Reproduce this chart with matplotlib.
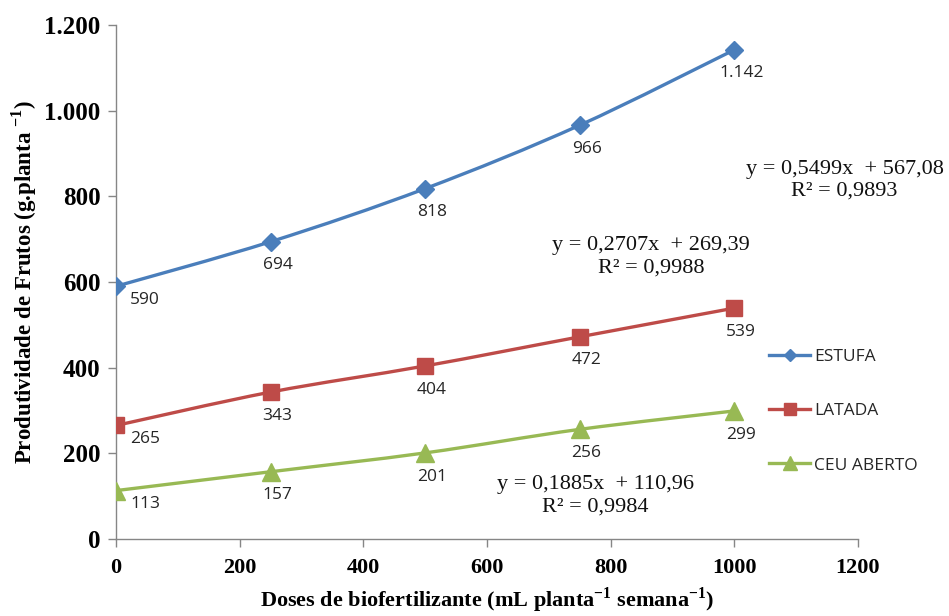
import numpy as np
import matplotlib.pyplot as plt
from matplotlib.path import Path
from matplotlib.patches import PathPatch
from matplotlib.lines import Line2D

# doses de biofertilizante (mL planta-1 semana-1)
doses = [0, 250, 500, 750, 1000]

estufa = [590, 694, 818, 966, 1142]
latada = [265, 343, 404, 472, 539]
ceu_aberto = [113, 157, 201, 256, 299]

series_names = ["ESTUFA", "LATADA", "CEU ABERTO"]
equacoes = ["y = 0,5499x  + 567,08\nR² = 0,9893",
            "y = 0,2707x  + 269,39\nR² = 0,9988",
            "y = 0,1885x  + 110,96\nR² = 0,9984"]

x_ticks = [0, 200, 400, 600, 800, 1000, 1200]
y_ticks = [0, 200, 400, 600, 800, 1000, 1200]
y_ticklabels = ["0", "200", "400", "600", "800", "1.000", "1.200"]

cores = ["#4A7EBB", "#BE4B48", "#98B954"]
marcadores = ["D", "s", "^"]
tam_marc = [9, 11, 13.5]
tam_leg = [6.5, 8.5, 10]
serif = "Liberation Serif"
sans = "Open Sans"

plt.rcParams["mathtext.fontset"] = "custom"
plt.rcParams["mathtext.rm"] = serif
plt.rcParams["mathtext.bf"] = serif + ":bold"


def curva_suave(x, y):
    # spline tipo catmull-rom convertida em bezier cubica (linha suavizada)
    p = np.column_stack([x, y]).astype(float)
    verts = [p[0]]
    codes = [Path.MOVETO]
    n = len(p)
    for i in range(n - 1):
        p0 = p[max(i - 1, 0)]
        p1 = p[i]
        p2 = p[i + 1]
        p3 = p[min(i + 2, n - 1)]
        c1 = p1 + (p2 - p0) / 6.0
        c2 = p2 - (p3 - p1) / 6.0
        verts += [c1, c2, p2]
        codes += [Path.CURVE4] * 3
    return Path(verts, codes)


fig = plt.figure(figsize=(9.49, 6.16), dpi=100)
ax = fig.add_axes([0.1222, 0.125, 0.7818, 0.8344])

dados = [estufa, latada, ceu_aberto]
for vals, cor, mk, ms in zip(dados, cores, marcadores, tam_marc):
    patch = PathPatch(curva_suave(doses, vals), facecolor="none",
                      edgecolor=cor, lw=2.4, zorder=3)
    ax.add_patch(patch)
    ax.plot(doses, vals, linestyle="none", marker=mk, ms=ms, color=cor, zorder=4)
    for i, (xv, yv) in enumerate(zip(doses, vals)):
        txt = f"{yv:,}".replace(",", ".")
        dx, dy = (21, -10) if i == 0 else (5, -17)
        ax.annotate(txt, (xv, yv), xytext=(dx, dy), textcoords="offset points",
                    ha="center", va="center", fontsize=12.5,
                    family=sans, color="#262626", zorder=5)

ax.set_xlim(0, 1200)
ax.set_ylim(0, 1200)
ax.set_xticks(x_ticks)
ax.set_yticks(y_ticks)
ax.set_yticklabels(y_ticklabels)
for lab in ax.get_xticklabels():
    lab.set_family(serif)
    lab.set_weight("bold")
    lab.set_fontsize(16)
for lab in ax.get_yticklabels():
    lab.set_family(serif)
    lab.set_weight("bold")
    lab.set_fontsize(18)

for s in ["top", "right"]:
    ax.spines[s].set_visible(False)
for s in ["left", "bottom"]:
    ax.spines[s].set_color("#868686")
    ax.spines[s].set_linewidth(1.0)
ax.tick_params(axis="both", direction="out", length=6, width=1.0,
               color="#868686", pad=5)
ax.tick_params(axis="x", pad=8)

ax.set_xlabel("Doses de biofertilizante (mL planta$^{\\mathbf{-1}}$ semana$^{\\mathbf{-1}}$)",
              family=serif, weight="bold", fontsize=16, labelpad=5)
ax.set_ylabel("Produtividade de Frutos (g.planta $^{\\mathbf{-1}}$)",
              family=serif, weight="bold", fontsize=16.5, labelpad=4)

# equacoes das retas ajustadas
pos_eq = [(0.890, 0.707), (0.686, 0.583), (0.627, 0.195)]
for eq, (fx, fy) in zip(equacoes, pos_eq):
    fig.text(fx, fy, eq, ha="center", va="center", family=serif,
             fontsize=16, linespacing=1.2, color="#111111")

handles = [Line2D([0], [0], color=c, lw=2.4, marker=m, ms=s)
           for c, m, s in zip(cores, marcadores, tam_leg)]
fig.legend(handles, series_names, loc="upper left",
           bbox_to_anchor=(0.801, 0.448), frameon=False, borderpad=0,
           handlelength=2.4, handletextpad=0.2, labelspacing=2.2,
           prop={"family": sans, "size": 12.5}, labelcolor="#262626")

fig.savefig("out.png", dpi=100)
